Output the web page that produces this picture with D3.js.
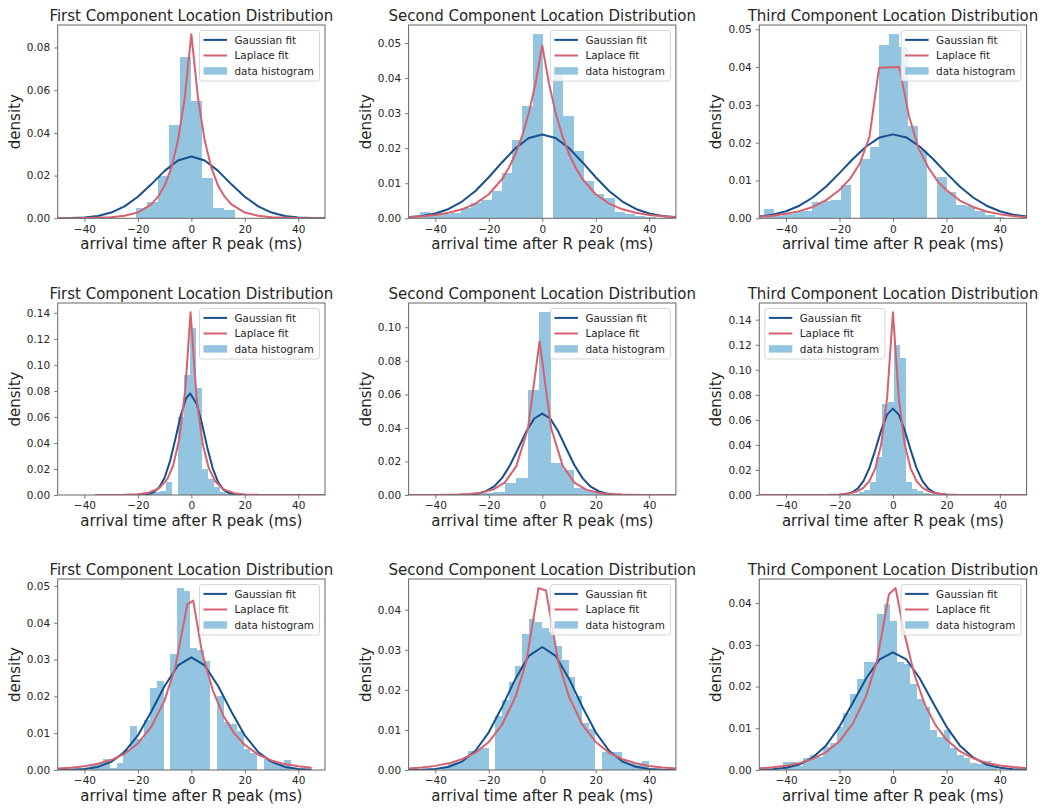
<!DOCTYPE html>
<html><head><meta charset="utf-8">
<script src="https://cdn.jsdelivr.net/npm/d3@7"></script>
<style>
body{margin:0;background:#fff}
svg{display:block}
text{font-family:"DejaVu Sans",sans-serif;fill:#262626}
</style>
</head><body>
<svg id="c" width="1050" height="811"></svg>
<script>
// ---------------- DATA ----------------
const titles = ["First Component Location Distribution","Second Component Location Distribution","Third Component Location Distribution"];
const xLabel = "arrival time after R peak (ms)";
const yLabel = "density";
const legendLabels = ["Gaussian fit","Laplace fit","data histogram"];
const xTicks = [-40,-20,0,20,40];
const xDomain = [-50,50];

// Panel 1 (row 1, first)
const p1Ticks = [0,0.02,0.04,0.06,0.08];
const p1BinStart = -20.6, p1BinWidth = 4.12;
const p1Density = [0.005,0.0078,0.020,0.0435,0.0755,0.055,0.0188,0.005,0.0038];
const p1GaussX = [-50,-45,-40,-35,-30,-25,-20,-15,-10,-5,0,5,10,15,20,25,30,35,40,45,50];
const p1GaussY = [0.00004,0.0001,0.0004,0.0011,0.0027,0.0056,0.0101,0.0159,0.0222,0.0271,0.0289,0.0271,0.0222,0.0159,0.0101,0.0056,0.0027,0.0011,0.0004,0.0001,0.00004];
const p1LapX = [-50,-40,-30,-25,-20,-15,-12.5,-10,-7.5,-5,-2.5,0,2.5,5,7.5,10,12.5,15,20,25,30,40,50];
const p1LapY = [0.00002,0.0001,0.0005,0.00116,0.0027,0.0065,0.0100,0.0153,0.0236,0.0364,0.0562,0.0862,0.0562,0.0364,0.0236,0.0153,0.0100,0.0065,0.0027,0.00116,0.0005,0.0001,0.00002];

// Panel 2 (row 1, second)
const p2Ticks = [0,0.01,0.02,0.03,0.04,0.05];
const p2BinStart = -45.75, p2BinWidth = 3.833;
const p2Density = [0.0018,0.0016,0.0012,0.0014,0.0028,0.0045,0.0052,0.0077,0.013,0.0222,0.032,0.0525,0,0.042,0.0293,0.0192,0.0105,0.007,0.0058,0.0017,0.0012,0.0006,0.0004];
const p2GaussX = [-50,-45,-40,-35,-30,-25,-20,-15,-10,-5,0,5,10,15,20,25,30,35,40,45,50];
const p2GaussY = [0.00027,0.00063,0.00136,0.00266,0.00477,0.0078,0.0117,0.016,0.02,0.0229,0.0239,0.0229,0.02,0.016,0.0117,0.0078,0.00477,0.00266,0.00136,0.00063,0.00027];
const p2LapX = [-50,-45,-40,-35,-30,-25,-20,-15,-12.5,-10,-7.5,-5,-2.5,0,2.5,5,7.5,10,12.5,15,20,25,30,35,40,45,50];
const p2LapY = [0.00036,0.00058,0.00095,0.00156,0.00256,0.00419,0.00686,0.0112,0.0144,0.0184,0.0235,0.0301,0.0385,0.0493,0.0385,0.0301,0.0235,0.0184,0.0144,0.0112,0.00686,0.00419,0.00256,0.00156,0.00095,0.00058,0.00036];

// Panel 3 (row 1, third)
const p3Ticks = [0,0.01,0.02,0.03,0.04,0.05];
const p3BinStart = -48.2, p3BinWidth = 3.594;
const p3Density = [0.0024,0.0006,0.0012,0.0018,0.0018,0.0043,0.0045,0.0049,0.0087,0,0.0157,0.0188,0.0459,0.0487,0.0453,0.0244,0.018,0,0.011,0.0069,0.0035,0.0033,0.0018,0.0008,0.0004];
const p3GaussX = [-50,-45,-40,-35,-30,-25,-20,-15,-10,-5,0,5,10,15,20,25,30,35,40,45,50];
const p3GaussY = [0.00046,0.00096,0.00186,0.00333,0.0055,0.00843,0.01195,0.0157,0.019,0.0214,0.0222,0.0214,0.019,0.0157,0.01195,0.00843,0.0055,0.00333,0.00186,0.00096,0.00046];
const p3LapX = [-50,-45,-40,-35,-30,-25,-20,-16,-12.4,-8.8,-5.2,2.4,6,9.6,13.2,17,20,25,30,35,40,45,50];
const p3LapY = [0.0004,0.0007,0.0012,0.0019,0.003,0.0048,0.0075,0.0105,0.0145,0.0215,0.0398,0.040,0.027,0.0185,0.0135,0.0095,0.0075,0.0047,0.003,0.0018,0.0011,0.0006,0.0003];

// Panel 4 (row 2, first)
const p4Ticks = [0,0.02,0.04,0.06,0.08,0.10,0.12,0.14];
const p4BinStart = -16.125, p4BinWidth = 2.25;
const p4Density = [0.0015,0.002,0.003,0.0102,0,0.06,0.092,0.128,0.0825,0.02,0.012,0.006,0.002,0.001];
const p4GaussX = [-36,-30,-25,-20,-18,-16,-14,-12,-10,-8,-6,-4,-2,-0.4,2,4,6,8,10,12,14,16,18,20,25,30,40,50];
const p4GaussY = [0,0,0,0.00005,0.0002,0.0007,0.0023,0.0059,0.0133,0.0258,0.0428,0.0609,0.0743,0.078,0.0699,0.0545,0.0362,0.0205,0.0099,0.0041,0.0015,0.0005,0.00014,0.00004,0,0,0,0];
const p4LapX = [-36,-30,-25,-20,-16,-12,-9,-6.75,-4.5,-2.25,-0.3,2,4.25,6.5,9,12,16,20,25,30,40,50];
const p4LapY = [0.000006,0.00003,0.00014,0.00055,0.0017,0.0053,0.0122,0.023,0.0432,0.0813,0.1405,0.0736,0.0391,0.0208,0.0103,0.0044,0.0014,0.00047,0.00011,0.00003,0,0];

// Panel 5 (row 2, second)
const p5Ticks = [0,0.02,0.04,0.06,0.08,0.10];
const p5BinStart = -27.15, p5BinWidth = 4.35;
const p5Density = [0.0003,0.0012,0.002,0.0073,0.0099,0.0624,0.109,0.0188,0.015,0.004,0.0025,0.001];
const p5GaussX = [-50,-45,-40,-35,-30,-27,-24,-21,-18,-15,-12,-9,-6,-3,0,3,6,9,12,15,18,21,24,27,30,35,40,45,50];
const p5GaussY = [0,0,0,0.00001,0.0001,0.0003,0.0009,0.0023,0.0051,0.0102,0.0179,0.0277,0.0378,0.0456,0.0485,0.0456,0.0378,0.0277,0.0179,0.0102,0.0051,0.0023,0.0009,0.0003,0.0001,0.00001,0,0,0];
const p5LapX = [-50,-48.85,-44.5,-40.15,-35.8,-31.45,-27.1,-22.75,-18.4,-14.05,-9.7,-5.35,-1,3.35,7.7,12.05,16.4,20.75,25.1,29.45,33.8,38.15,42.5,46.85,50];
const p5LapY = [0.00001,0.00001,0.00002,0.00005,0.00011,0.00026,0.0006,0.0014,0.0032,0.0074,0.0172,0.0396,0.0915,0.0396,0.0172,0.0074,0.0032,0.0014,0.0006,0.00026,0.00011,0.00005,0.00002,0.00001,0.00001];

// Panel 6 (row 2, third)
const p6Ticks = [0,0.02,0.04,0.06,0.08,0.10,0.12,0.14];
const p6BinStart = -15.05, p6BinWidth = 2.2;
const p6Density = [0.001,0.002,0.004,0.0106,0.0305,0.073,0.074,0.12,0.109,0.0106,0.005,0.003,0.0015,0.0005];
const p6GaussX = [-50,-40,-30,-25,-20,-17.6,-15.4,-13.2,-11,-8.8,-6.6,-4.4,-2.2,0,2.2,4.4,6.6,8.8,11,13.2,15.4,17.6,20,25,30,40,50];
const p6GaussY = [0,0,0,0.00001,0.00017,0.00067,0.002,0.0051,0.0113,0.0217,0.036,0.0516,0.0642,0.069,0.0642,0.0516,0.036,0.0217,0.0113,0.0051,0.002,0.00067,0.00017,0.00001,0,0,0];
const p6LapX = [-50,-40,-30,-25,-20,-15.4,-13.2,-11,-8.8,-6.6,-4.4,-2.2,0,2.2,4.4,6.6,8.8,11,13.2,15.4,20,25,30,40,50];
const p6LapY = [0,0,0.00001,0.0001,0.0004,0.0016,0.0031,0.0059,0.0112,0.0213,0.0405,0.0769,0.146,0.0769,0.0405,0.0213,0.0112,0.0059,0.0031,0.0016,0.0004,0.0001,0.00001,0,0];

// Panel 7 (row 3, first)
const p7Ticks = [0,0.01,0.02,0.03,0.04,0.05];
const p7BinStart = -37.9, p7BinWidth = 2.5;
const p7Density = [0.0015,0.0018,0.003,0.0005,0.002,0.0055,0.012,0.0085,0.0135,0.0222,0.0243,0,0.0316,0.0494,0.0486,0.033,0.0325,0.0295,0,0.02,0.013,0.0125,0.0105,0.0056,0.0045,0,0.003,0.0018,0.0017,0.0028];
const p7GaussX = [-50,-45,-40,-35,-30,-25,-20,-15,-10,-5,0,5,10,15,20,25,30,35,40,45];
const p7GaussY = [0.00002,0.00008,0.00028,0.00084,0.0022,0.0049,0.0094,0.0158,0.0228,0.0284,0.0306,0.0284,0.0228,0.0158,0.0094,0.0049,0.0022,0.00084,0.00028,0.00008];
const p7LapX = [-50,-45,-40,-35,-30,-25,-20,-15,-10,-6,-1.5,0.7,4,8,12,16,20,25,30,35,40,45];
const p7LapY = [0.0004,0.00064,0.00104,0.0017,0.0027,0.0044,0.0072,0.0117,0.0189,0.0279,0.045,0.046,0.0319,0.0217,0.0147,0.0100,0.0068,0.0042,0.0026,0.0016,0.001,0.0006];

// Panel 8 (row 3, second)
const p8Ticks = [0,0.01,0.02,0.03,0.04];
const p8BinStart = -37.6, p8BinWidth = 2.5;
const p8Density = [0.0008,0.0018,0.002,0.003,0.0048,0.0052,0.0056,0,0.0135,0.0175,0.022,0.026,0.034,0.0377,0.037,0.0355,0.0345,0.031,0.0275,0.0232,0.0185,0.0118,0.0102,0,0.0046,0.0046,0.0045,0.0025,0.0018,0.0012,0.0022];
const p8GaussX = [-50,-45,-40,-35,-30,-25,-20,-15,-10,-5,0,5,10,15,20,25,30,35,40,45,50];
const p8GaussY = [0.00002,0.00007,0.00026,0.0008,0.0021,0.0048,0.0094,0.0158,0.0228,0.0285,0.0307,0.0285,0.0228,0.0158,0.0094,0.0048,0.0021,0.0008,0.00026,0.00007,0.00002];
const p8LapX = [-50,-45,-40,-35,-30,-25,-20,-15,-10,-6,-1.4,1.4,6,10,15,20,25,30,35,40,45,50];
const p8LapY = [0.00039,0.00064,0.00103,0.00166,0.00268,0.00434,0.007,0.01135,0.0183,0.027,0.0454,0.0448,0.027,0.0183,0.0113,0.007,0.0043,0.0027,0.0017,0.001,0.0006,0.0004];

// Panel 9 (row 3, third)
const p9Ticks = [0,0.01,0.02,0.03,0.04];
const p9BinStart = -41, p9BinWidth = 2.5;
const p9Density = [0.0018,0.0018,0.001,0.0028,0.0036,0.003,0.0055,0.0064,0.0103,0.0137,0.0183,0.0219,0.0258,0.0258,0.0374,0.0398,0.0358,0.0258,0.0255,0.0207,0.0171,0.0151,0.0095,0.008,0.0095,0.0052,0.0036,0.0028,0.0016,0.0014,0.0021,0.0008];
const p9GaussX = [-50,-45,-40,-35,-30,-25,-20,-15,-10,-5,0,5,10,15,20,25,30,35,40,45,50];
const p9GaussY = [0.00005,0.00018,0.00052,0.0013,0.003,0.0059,0.0104,0.0161,0.022,0.0265,0.0282,0.0265,0.022,0.0161,0.0104,0.0059,0.003,0.0013,0.00052,0.00018,0.00005];
const p9LapX = [-50,-45,-40,-35,-30,-25,-20,-15,-10,-6,-1.5,1,4,8,12,16,20,25,30,35,40,45,50];
const p9LapY = [0.0004,0.00064,0.001,0.00165,0.00266,0.0043,0.0069,0.0111,0.0178,0.0261,0.0421,0.0436,0.0335,0.0229,0.0156,0.0107,0.0073,0.0045,0.0028,0.0017,0.0011,0.0007,0.0004];

const legendCorner = ["right","right","right","right","right","left","right","right","right"];

// ---------------- PANEL TABLE ----------------
const panels = [
  [p1Ticks,p1BinStart,p1BinWidth,p1Density,p1GaussX,p1GaussY,p1LapX,p1LapY],
  [p2Ticks,p2BinStart,p2BinWidth,p2Density,p2GaussX,p2GaussY,p2LapX,p2LapY],
  [p3Ticks,p3BinStart,p3BinWidth,p3Density,p3GaussX,p3GaussY,p3LapX,p3LapY],
  [p4Ticks,p4BinStart,p4BinWidth,p4Density,p4GaussX,p4GaussY,p4LapX,p4LapY],
  [p5Ticks,p5BinStart,p5BinWidth,p5Density,p5GaussX,p5GaussY,p5LapX,p5LapY],
  [p6Ticks,p6BinStart,p6BinWidth,p6Density,p6GaussX,p6GaussY,p6LapX,p6LapY],
  [p7Ticks,p7BinStart,p7BinWidth,p7Density,p7GaussX,p7GaussY,p7LapX,p7LapY],
  [p8Ticks,p8BinStart,p8BinWidth,p8Density,p8GaussX,p8GaussY,p8LapX,p8LapY],
  [p9Ticks,p9BinStart,p9BinWidth,p9Density,p9GaussX,p9GaussY,p9LapX,p9LapY]
].map((a,i)=>({
  title: titles[i%3], yTicks:a[0],
  bins: a[3].map((v,k)=>({x0:a[1]+k*a[2], x1:a[1]+(k+1)*a[2], v})),
  gauss: a[4].map((x,k)=>[x,a[5][k]]),
  lap: a[6].map((x,k)=>[x,a[7][k]]),
  corner: legendCorner[i]
}));

// ---------------- STYLE / LAYOUT ----------------
const colLeft = [57.7,408.6,759.3], plotW = 267.3;
const rowTop = [25,303,579], rowBottom = [218.3,495,770];
const cGauss = "#17508d", cLap = "#d6616f", cBar = "#93c4e0", cFrame = "#666666";

const svg = d3.select("#c");
const defs = svg.append("defs");
const fmtX = d => d<0 ? "\u2212"+Math.abs(d) : String(d);

panels.forEach((p,i)=>{
  const r = Math.floor(i/3), c = i%3;
  const L = colLeft[c], R = L+plotW, T = rowTop[r], B = rowBottom[r];
  const yMax = 1.05*d3.max([d3.max(p.bins,d=>d.v), d3.max(p.gauss,d=>d[1]), d3.max(p.lap,d=>d[1])]);
  const x = d3.scaleLinear().domain(xDomain).range([L,R]);
  const y = d3.scaleLinear().domain([0,yMax]).range([B,T]);
  const g = svg.append("g");

  defs.append("clipPath").attr("id","clip"+i).append("rect")
    .attr("x",L).attr("y",T).attr("width",plotW).attr("height",B-T);
  const pl = g.append("g").attr("clip-path",`url(#clip${i})`);

  pl.selectAll("rect.bar").data(p.bins.filter(d=>d.v>0)).join("rect")
    .attr("class","bar")
    .attr("x",d=>x(d.x0)).attr("width",d=>x(d.x1)-x(d.x0))
    .attr("y",d=>y(d.v)).attr("height",d=>y(0)-y(d.v))
    .attr("fill",cBar).attr("shape-rendering","crispEdges");

  const line = d3.line().x(d=>x(d[0])).y(d=>y(d[1]));
  pl.append("path").attr("d",line(p.gauss)).attr("fill","none")
    .attr("stroke",cGauss).attr("stroke-width",2).attr("stroke-linejoin","round");
  pl.append("path").attr("d",line(p.lap)).attr("fill","none")
    .attr("stroke",cLap).attr("stroke-width",2).attr("stroke-linejoin","round");

  // axes
  const ax = g.append("g").attr("transform",`translate(0,${B})`)
    .call(d3.axisBottom(x).tickValues(xTicks).tickFormat(fmtX).tickSize(3.5).tickPadding(3.3));
  const ay = g.append("g").attr("transform",`translate(${L},0)`)
    .call(d3.axisLeft(y).tickValues(p.yTicks).tickFormat(d3.format(".2f")).tickSize(3.5).tickPadding(4));
  [ax,ay].forEach(a=>{
    a.select(".domain").remove();
    a.selectAll(".tick line").attr("stroke",cFrame).attr("stroke-width",0.9);
    a.selectAll(".tick text").attr("font-size",10.5).attr("font-family","DejaVu Sans").attr("fill","#2a2a2a");
  });

  g.append("rect").attr("x",L).attr("y",T).attr("width",plotW).attr("height",B-T)
    .attr("fill","none").attr("stroke",cFrame).attr("stroke-width",1);

  // texts
  g.append("text").attr("x",(L+R)/2).attr("y",T-4.5).attr("text-anchor","middle")
    .attr("font-size",15).text(p.title);
  g.append("text").attr("x",(L+R)/2).attr("y",B+30.7).attr("text-anchor","middle")
    .attr("font-size",15).text(xLabel);
  g.append("text").attr("transform",`translate(${L-38},${(T+B)/2}) rotate(-90)`)
    .attr("text-anchor","middle").attr("font-size",15).text(yLabel);

  // legend
  const lw = 120, lh = 50.5, pad = 5.5;
  const lx = p.corner==="right" ? R-pad-lw : L+pad, ly = T+pad;
  const lg = g.append("g");
  lg.append("rect").attr("x",lx).attr("y",ly).attr("width",lw).attr("height",lh)
    .attr("rx",2.5).attr("fill","#fff").attr("fill-opacity",0.8)
    .attr("stroke","#cccccc").attr("stroke-width",0.8);
  const rowsY = [9.4,25,40.4];
  [cGauss,cLap].forEach((col,k)=>{
    lg.append("line").attr("x1",lx+4).attr("x2",lx+27.5)
      .attr("y1",ly+rowsY[k]).attr("y2",ly+rowsY[k])
      .attr("stroke",col).attr("stroke-width",2);
  });
  lg.append("rect").attr("x",lx+4).attr("y",ly+rowsY[2]-3.7).attr("width",23.5).attr("height",7.4).attr("fill",cBar);
  legendLabels.forEach((t,k)=>{
    lg.append("text").attr("x",lx+35).attr("y",ly+rowsY[k]).attr("dy","0.36em")
      .attr("font-size",10.4).text(t);
  });
});
</script>
</body></html>
